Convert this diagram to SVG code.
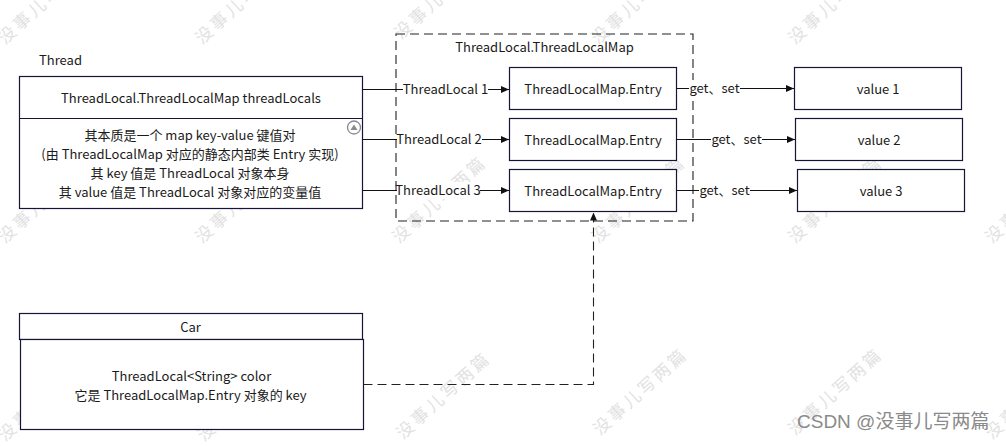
<svg xmlns="http://www.w3.org/2000/svg" width="1006" height="446" viewBox="0 0 1006 446">
<style>
text{font-family:"Noto Sans CJK SC","Noto Sans",sans-serif;font-size:13px;fill:#1a1a1a}
.c{text-anchor:middle}
.box{fill:#fff;stroke:#15153a;stroke-width:1.2}
.line{fill:none;stroke:#111;stroke-width:1.1}
.dash{fill:none;stroke:#222;stroke-width:1.1;stroke-dasharray:9 5}
.lbl{fill:#fff}
.wm{font-size:17px;fill:#e2e2e2;letter-spacing:3px}
.csdn{font-size:19px;fill:#8a8a8a;font-family:"Liberation Sans","Noto Sans CJK SC",sans-serif}
</style>
<defs>
<marker id="ah" markerWidth="8" markerHeight="7" refX="8" refY="3.5" orient="auto" markerUnits="userSpaceOnUse">
<path d="M0,0 L8,3.5 L0,7 z" fill="#111"/>
</marker>
</defs>
<rect width="1006" height="446" fill="#fff"/>
<g id="watermarks">
<text class="wm" transform="translate(5,45) rotate(-42)">没事儿写两篇</text>
<text class="wm" transform="translate(202,45) rotate(-42)">没事儿写两篇</text>
<text class="wm" transform="translate(401,40) rotate(-42)">没事儿写两篇</text>
<text class="wm" transform="translate(598,45) rotate(-42)">没事儿写两篇</text>
<text class="wm" transform="translate(795,45) rotate(-42)">没事儿写两篇</text>
<text class="wm" transform="translate(5,244) rotate(-42)">没事儿写两篇</text>
<text class="wm" transform="translate(202,244) rotate(-42)">没事儿写两篇</text>
<text class="wm" transform="translate(399,244) rotate(-42)">没事儿写两篇</text>
<text class="wm" transform="translate(598,244) rotate(-42)">没事儿写两篇</text>
<text class="wm" transform="translate(795,244) rotate(-42)">没事儿写两篇</text>
<text class="wm" transform="translate(992,244) rotate(-42)">没事儿写两篇</text>
<text class="wm" transform="translate(5,442) rotate(-42)">没事儿写两篇</text>
<text class="wm" transform="translate(204,442) rotate(-42)">没事儿写两篇</text>
<text class="wm" transform="translate(403,440) rotate(-42)">没事儿写两篇</text>
<text class="wm" transform="translate(600,436) rotate(-42)">没事儿写两篇</text>
<text class="wm" transform="translate(795,436) rotate(-42)">没事儿写两篇</text>
<text class="wm" transform="translate(992,440) rotate(-42)">没事儿写两篇</text>
</g>
<g id="thread">
<text x="39" y="65">Thread</text>
<rect class="box" x="19.5" y="76.5" width="343" height="132"/>
<line class="box" x1="19.5" y1="118.5" x2="362.5" y2="118.5"/>
<text class="c" x="191" y="103">ThreadLocal.ThreadLocalMap threadLocals</text>
<text class="c" x="190" y="140">其本质是一个 map key-value 键值对</text>
<text class="c" x="190" y="159">(由 ThreadLocalMap 对应的静态内部类 Entry 实现)</text>
<text class="c" x="190" y="178">其 key 值是 ThreadLocal 对象本身</text>
<text class="c" x="190" y="197">其 value 值是 ThreadLocal 对象对应的变量值</text>
<circle cx="354" cy="127.5" r="6.5" fill="#fff" stroke="#8a8a8a" stroke-width="1.3"/>
<path d="M350.5,130 L354,124.5 L357.5,130 z" fill="#8a8a8a"/>
</g>
<g id="threadlocalmap">
<rect x="396" y="34" width="297" height="187" class="dash"/>
<text class="c" x="544.5" y="52">ThreadLocal.ThreadLocalMap</text>
</g>
<g id="entry1">
<rect class="box" x="509.5" y="67.5" width="167" height="42"/>
<text class="c" x="593" y="94">ThreadLocalMap.Entry</text>
</g>
<g id="entry2">
<rect class="box" x="509.5" y="118.5" width="167" height="42"/>
<text class="c" x="593" y="145">ThreadLocalMap.Entry</text>
</g>
<g id="entry3">
<rect class="box" x="509.5" y="169.5" width="167" height="42"/>
<text class="c" x="593" y="196">ThreadLocalMap.Entry</text>
</g>
<g id="value1">
<rect class="box" x="794.5" y="67.5" width="167" height="42"/>
<text class="c" x="878" y="94">value 1</text>
</g>
<g id="value2">
<rect class="box" x="795.5" y="118.5" width="167" height="42"/>
<text class="c" x="879" y="145">value 2</text>
</g>
<g id="value3">
<rect class="box" x="797.5" y="169.5" width="167" height="42"/>
<text class="c" x="881" y="196">value 3</text>
</g>
<g id="car">
<rect class="box" x="19.5" y="313.5" width="343" height="26"/>
<rect class="box" x="20.5" y="339.5" width="343" height="90"/>
<text class="c" x="190.5" y="332">Car</text>
<text class="c" x="191.5" y="381">ThreadLocal&lt;String&gt; color</text>
<text class="c" x="190.5" y="400">它是 ThreadLocalMap.Entry 对象的 key</text>
</g>
<g id="connectors">
<line class="line" x1="362.5" y1="89.5" x2="509" y2="89.5" marker-end="url(#ah)"/>
<line class="line" x1="362.5" y1="139.5" x2="509" y2="139.5" marker-end="url(#ah)"/>
<line class="line" x1="362.5" y1="190.5" x2="509" y2="190.5" marker-end="url(#ah)"/>
<line class="line" x1="676.5" y1="88.5" x2="794" y2="88.5" marker-end="url(#ah)"/>
<line class="line" x1="676.5" y1="139.5" x2="795" y2="139.5" marker-end="url(#ah)"/>
<line class="line" x1="676.5" y1="190.5" x2="797" y2="190.5" marker-end="url(#ah)"/>
<path class="dash" d="M363.5,384.5 H593.5 V212.5" marker-end="url(#ah)"/>
<rect class="lbl" x="403" y="81" width="85" height="17"/>
<text class="c" x="445.5" y="94">ThreadLocal 1</text>
<rect class="lbl" x="397" y="131" width="85" height="17"/>
<text class="c" x="439" y="144">ThreadLocal 2</text>
<rect class="lbl" x="397" y="182" width="83" height="17"/>
<text class="c" x="438" y="195">ThreadLocal 3</text>
<rect class="lbl" x="689" y="80" width="51" height="17"/>
<text class="c" x="714.5" y="93">get、set</text>
<rect class="lbl" x="711" y="131" width="51" height="17"/>
<text class="c" x="736.5" y="144">get、set</text>
<rect class="lbl" x="699" y="182" width="51" height="17"/>
<text class="c" x="724.5" y="195">get、set</text>
</g>
<text class="csdn" x="797" y="428">CSDN @没事儿写两篇</text>
</svg>
